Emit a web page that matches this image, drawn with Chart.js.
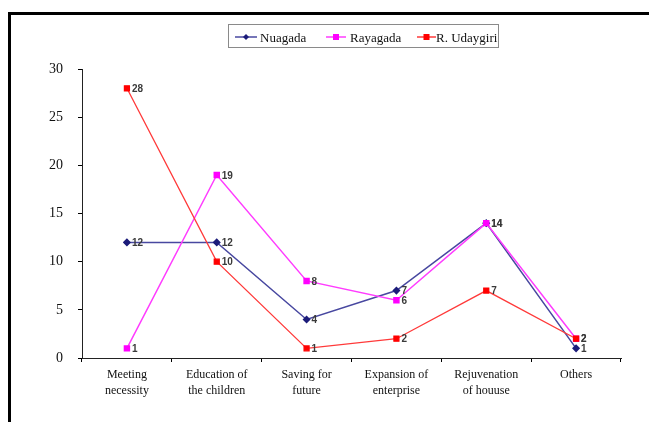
<!DOCTYPE html>
<html>
<head>
<meta charset="utf-8">
<script src="https://cdn.jsdelivr.net/npm/chart.js@4/dist/chart.umd.min.js"></script>
<style>
  html, body { margin: 0; padding: 0; background: #fff; }
  #wrap { position: relative; width: 649px; height: 422px; }
</style>
</head>
<body>
<div id="wrap"><canvas id="c" width="649" height="422"></canvas></div>
<script>
// Purposes of using the savings, by block
const categories = [
  ['Meeting', 'necessity'],
  ['Education of', 'the children'],
  ['Saving for', 'future'],
  ['Expansion of', 'enterprise'],
  ['Rejuvenation', 'of houuse'],
  'Others'
];
const nuagada    = [12, 12, 4, 7, 14, 1];
const rayagada   = [1, 19, 8, 6, 14, 2];
const rUdaygiri  = [28, 10, 1, 2, 7, 2];
const yTicks     = [0, 5, 10, 15, 20, 25, 30];

const SERIF = '"Liberation Serif", "DejaVu Serif", serif';

// Outer frame of the figure
const framePlugin = {
  id: 'frame',
  afterDraw(chart) {
    const ctx = chart.ctx;
    ctx.save();
    ctx.strokeStyle = '#000';
    ctx.lineWidth = 3;
    ctx.beginPath();
    ctx.moveTo(9.5, 430);
    ctx.lineTo(9.5, 13.5);
    ctx.lineTo(660, 13.5);
    ctx.stroke();
    ctx.restore();
  }
};

// Value labels next to each marker
const valueLabels = {
  id: 'valueLabels',
  afterDatasetsDraw(chart) {
    const ctx = chart.ctx;
    ctx.save();
    ctx.font = 'bold 10px "Liberation Sans", Arial, sans-serif';
    ctx.fillStyle = '#3a3a3a';
    ctx.textAlign = 'left';
    ctx.textBaseline = 'middle';
    chart.data.datasets.forEach((ds, i) => {
      const meta = chart.getDatasetMeta(i);
      meta.data.forEach((pt, j) => {
        ctx.fillText(String(ds.data[j]), pt.x + 5, pt.y + 1);
      });
    });
    ctx.restore();
  }
};

// Boxed legend with a line-and-marker swatch per series
const boxLegend = {
  id: 'boxLegend',
  afterDraw(chart) {
    const ctx = chart.ctx;
    const box = { x: 228.5, y: 24.5, w: 270, h: 23 };
    ctx.save();
    ctx.strokeStyle = '#8a8a8a';
    ctx.lineWidth = 1;
    ctx.strokeRect(box.x, box.y, box.w, box.h);
    const items = [
      { ds: 0, lx0: 235, lx1: 257, tx: 260 },
      { ds: 1, lx0: 326, lx1: 346, tx: 350 },
      { ds: 2, lx0: 417, lx1: 436, tx: 436 }
    ];
    const cy = 37;
    ctx.font = '13px ' + SERIF;
    ctx.textBaseline = 'middle';
    items.forEach(it => {
      const ds = chart.data.datasets[it.ds];
      ctx.strokeStyle = ds.borderColor;
      ctx.lineWidth = 1.5;
      ctx.beginPath();
      ctx.moveTo(it.lx0, cy);
      ctx.lineTo(it.lx1, cy);
      ctx.stroke();
      const mx = (it.lx0 + it.lx1) / 2;
      ctx.fillStyle = ds.pointBackgroundColor;
      if (ds.pointStyle === 'rectRot') {
        ctx.beginPath();
        ctx.moveTo(mx, cy - 3); ctx.lineTo(mx + 3, cy);
        ctx.lineTo(mx, cy + 3); ctx.lineTo(mx - 3, cy);
        ctx.closePath(); ctx.fill();
      } else {
        ctx.fillRect(mx - 3, cy - 3, 6, 6);
      }
      ctx.fillStyle = '#111';
      ctx.fillText(ds.label, it.tx, cy + 2);
    });
    ctx.restore();
  }
};

new Chart(document.getElementById('c'), {
  type: 'line',
  data: {
    labels: categories,
    datasets: [
      {
        label: 'Nuagada', data: nuagada, order: 2,
        borderColor: '#4848a0', backgroundColor: '#1c1c7a',
        pointBackgroundColor: '#1c1c7a', pointBorderColor: '#1c1c7a',
        pointStyle: 'rectRot', pointRadius: 3, borderWidth: 1.5, tension: 0
      },
      {
        label: 'Rayagada', data: rayagada, order: 1,
        borderColor: '#ff3cff', backgroundColor: '#ff00ff',
        pointBackgroundColor: '#ff00ff', pointBorderColor: '#ff00ff',
        pointStyle: 'rect', pointRadius: 3.5, borderWidth: 1.5, tension: 0
      },
      {
        label: 'R. Udaygiri', data: rUdaygiri, order: 0,
        borderColor: '#ff3a3a', backgroundColor: '#ff0000',
        pointBackgroundColor: '#ff0000', pointBorderColor: '#ff0000',
        pointStyle: 'rect', pointRadius: 3.5, borderWidth: 1.3, tension: 0
      }
    ]
  },
  options: {
    responsive: false,
    animation: false,
    devicePixelRatio: 1,
    layout: { padding: { left: 10, right: 28, top: 69, bottom: 14 } },
    plugins: { legend: { display: false }, tooltip: { enabled: false } },
    scales: {
      x: {
        offset: true,
        afterFit(scale) { scale.height = 50; },
        grid: { drawOnChartArea: false, offset: true, tickLength: 4, color: '#000' },
        border: { color: '#222', width: 1 },
        ticks: {
          color: '#111', maxRotation: 0, autoSkip: false, padding: 5,
          font: { family: SERIF, size: 12, lineHeight: 1.3 }
        }
      },
      y: {
        min: 0, max: 30,
        afterFit(scale) { scale.width = 72; },
        afterBuildTicks(scale) { scale.ticks = yTicks.map(v => ({ value: v })); },
        grid: { drawOnChartArea: false, tickLength: 4, color: '#000' },
        border: { color: '#222', width: 1 },
        ticks: {
          color: '#111', padding: 15,
          font: { family: SERIF, size: 14 }
        }
      }
    }
  },
  plugins: [framePlugin, valueLabels, boxLegend]
});
</script>
</body>
</html>
